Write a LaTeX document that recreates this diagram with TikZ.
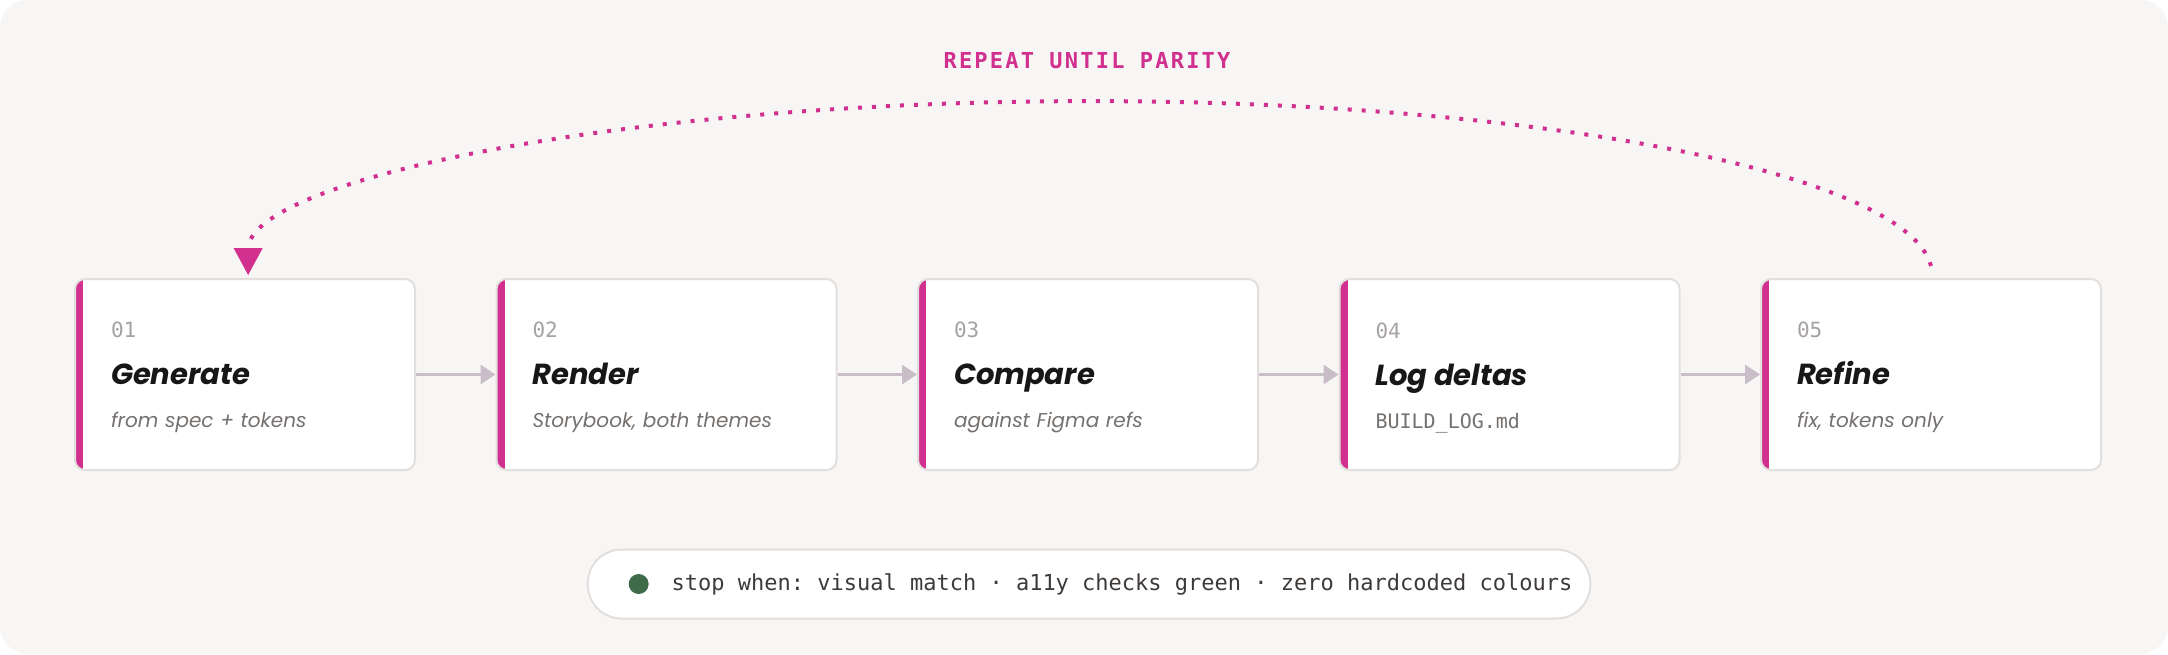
\documentclass[tikz,border=0pt]{standalone}
\usepackage{fontspec}
\setmainfont{Poppins}
\setmonofont{DejaVu Sans Mono}
\usetikzlibrary{arrows.meta}

\definecolor{paper}{HTML}{F8F6F5}
\definecolor{boxline}{HTML}{E2DFDD}
\definecolor{accent}{HTML}{D1308F}
\definecolor{flowgray}{HTML}{C9BEC8}
\definecolor{numgray}{HTML}{A6A3A1}
\definecolor{subgray}{HTML}{75716F}
\definecolor{titleink}{HTML}{171717}
\definecolor{pillink}{HTML}{3E3A38}
\definecolor{stopgreen}{HTML}{3F6B4B}

\newcommand{\stepnum}{\ttfamily\fontsize{10.5}{12}\selectfont\color{numgray}\rule{0pt}{11pt}}
\newcommand{\steptitle}{\bfseries\itshape\fontsize{14.5}{16}\selectfont\color{titleink}}
\newcommand{\stepsub}{\itshape\fontsize{10}{12}\selectfont\color{subgray}}
\newcommand{\stepcode}{\ttfamily\fontsize{10}{12}\selectfont\color{subgray}}

\begin{document}
\begin{tikzpicture}[
    x=0.5pt, y=0.5pt,
    stepbox/.style={draw=boxline, line width=1pt, fill=white, rounded corners=5pt,
        minimum width=170pt, minimum height=95.5pt, text width=134pt, inner xsep=18pt,
        align=left, font=\fontsize{10}{21.5}\selectfont,
        path picture={\fill[accent, sharp corners] (path picture bounding box.north west)
            rectangle ([xshift=4pt]path picture bounding box.south west);}},
    flow/.style={-{Triangle[length=7.5pt, width=9.5pt]}, line width=1.5pt, draw=flowgray},
    backloop/.style={-{Triangle[length=13.5pt, width=14pt]}, line width=2pt, draw=accent,
        fill=none, dash pattern=on 2pt off 5pt},
    looplabel/.style={text=accent, font=\ttfamily\bfseries\fontsize{11}{13}\selectfont\addfontfeature{LetterSpace=10}},
    pill/.style={draw=boxline, line width=1pt, fill=white, rounded corners=17pt,
        minimum height=34.5pt, inner xsep=9pt, text=pillink,
        font=\ttfamily\fontsize{11}{13}\selectfont},
    stopdot/.style={circle, fill=stopgreen, minimum size=10pt, inner sep=0pt}
]
    % Canvas
    \useasboundingbox (0,0) rectangle (2168,-654);
    \fill[white] (0,0) rectangle (2168,-654);
    \fill[paper, rounded corners=14pt] (0,0) rectangle (2168,-654);

    % Steps
    \node[stepbox] (s1) at (245,-374.5) {{\stepnum 01}\\[2pt]{\steptitle Generate}\\{\stepsub from spec + tokens}};
    \node[stepbox] (s2) at (666.5,-374.5) {{\stepnum 02}\\[2pt]{\steptitle Render}\\{\stepsub Storybook, both themes}};
    \node[stepbox] (s3) at (1088,-374.5) {{\stepnum 03}\\[2pt]{\steptitle Compare}\\{\stepsub against Figma refs}};
    \node[stepbox] (s4) at (1509.5,-374.5) {{\stepnum 04}\\[2pt]{\steptitle Log deltas}\\{\stepcode BUILD\_LOG.md}};
    \node[stepbox] (s5) at (1931,-374.5) {{\stepnum 05}\\[2pt]{\steptitle Refine}\\{\stepsub fix, tokens only}};

    % Arrows
    \draw[flow] (s1) -- (s2);
    \draw[flow] (s2) -- (s3);
    \draw[flow] (s3) -- (s4);
    \draw[flow] (s4) -- (s5);

    % Loop back
    \node[looplabel] (repeat) at (1087,-60.3) {REPEAT UNTIL PARITY};
    \draw[backloop] ([yshift=6pt]s5.north) arc[start angle=3, end angle=180, x radius=421pt, y radius=87pt];

    % Stop condition
    \node[pill] (stop) at (1089,-584) {\hspace*{33pt}stop when: visual match · a11y checks green · zero hardcoded colours};
    \node[stopdot] (dot) at ([xshift=26pt]stop.west) {};

\end{tikzpicture}
\end{document}
